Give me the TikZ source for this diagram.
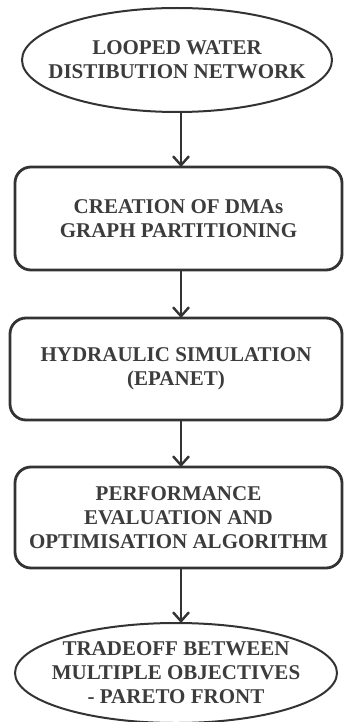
\documentclass[tikz,border=0pt]{standalone}
\usepackage{fontspec}
\setmainfont{Liberation Serif}
\usetikzlibrary{arrows.meta,shapes.geometric}
\definecolor{inkgray}{HTML}{333333}
\definecolor{textgray}{HTML}{3C3C3C}

\begin{document}
\begin{tikzpicture}[x=0.5pt,y=-0.5pt]
    \useasboundingbox (0,0) rectangle (343,722);
    \begin{scope}[every node/.style={draw=inkgray,line width=1pt,inner sep=0pt,outer sep=0pt,
                  align=center,text=textgray,font=\bfseries\fontsize{10.5}{12}\selectfont}]
      \node[ellipse,inner sep=-20pt,minimum width=155pt,minimum height=52pt] (net) at (177,60)
        {LOOPED WATER\\DISTIBUTION NETWORK};
      \node[rectangle,rounded corners=8pt,line width=1.4pt,minimum width=163.5pt,minimum height=51.5pt] (dma) at (178.5,218.5)
        {CREATION OF DMAs\\GRAPH PARTITIONING};
      \node[rectangle,rounded corners=8pt,line width=1.4pt,minimum width=166pt,minimum height=51pt] (sim) at (176,369)
        {HYDRAULIC SIMULATION\\(EPANET)};
      \node[rectangle,rounded corners=8pt,line width=1.4pt,minimum width=163.5pt,minimum height=50.5pt] (opt) at (178.5,517.5)
        {PERFORMANCE\\EVALUATION AND\\OPTIMISATION ALGORITHM};
      \node[ellipse,inner sep=-20pt,minimum width=161pt,minimum height=50pt] (pareto) at (176,673)
        {TRADEOFF BETWEEN\\MULTIPLE OBJECTIVES\\- PARETO FRONT};
    \end{scope}

    \begin{scope}[>={Straight Barb[length=4.5pt,width=8pt,line width=1.2pt]},
        every edge/.style={draw=inkgray,line width=1.4pt}]
      \path [->] (net.south -| 181,0) edge (dma.north -| 181,0);
      \path [->] (dma.south -| 181,0) edge (sim.north -| 181,0);
      \path [->] (sim.south -| 181,0) edge (opt.north -| 181,0);
      \path [->] (opt.south -| 181,0) edge (pareto.north -| 181,0);
    \end{scope}
\end{tikzpicture}
\end{document}
